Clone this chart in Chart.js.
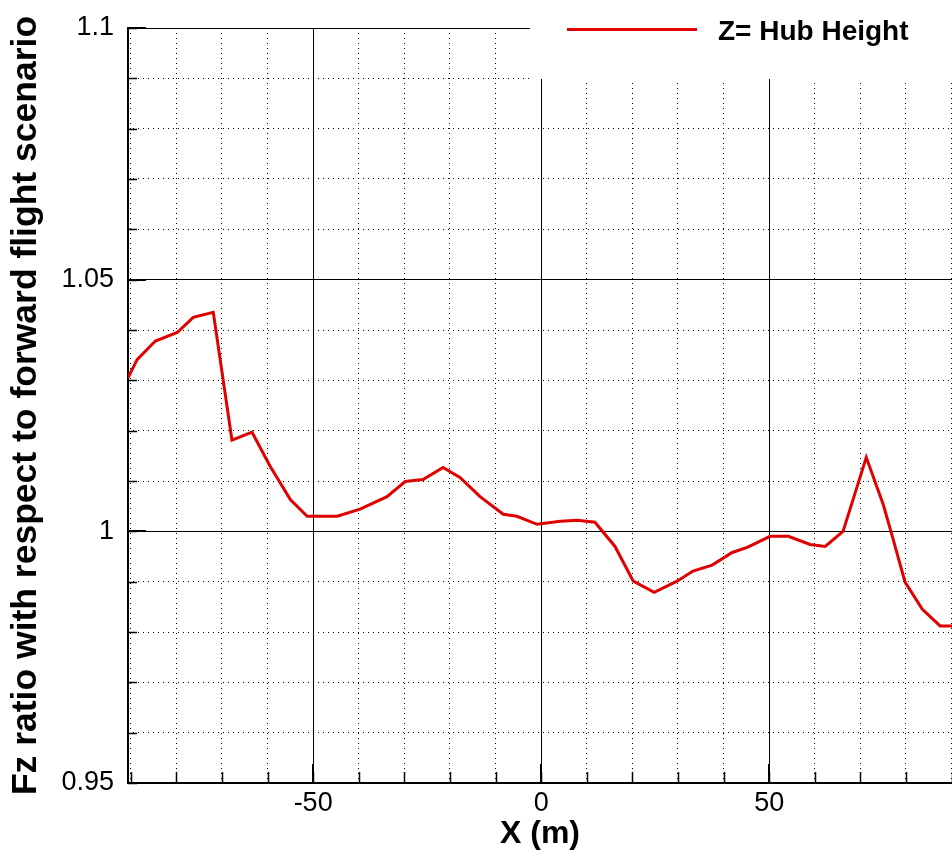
<!DOCTYPE html>
<html>
<head>
<meta charset="utf-8">
<script src="https://cdn.jsdelivr.net/npm/chart.js@4.4.1/dist/chart.umd.min.js"></script>
<style>
  html, body { margin: 0; padding: 0; background: #fff; }
</style>
</head>
<body>
<canvas id="fzChart" width="952" height="850"></canvas>
<script>
// DATA
const xPos = [-90.6, -88.6, -84.6, -79.8, -76.3, -71.9, -67.8, -63.4, -59.4, -55.0,
              -51.3, -44.7, -39.7, -33.8, -29.8, -25.9, -21.5, -17.8, -13.4, -8.3,
              -5.3, -0.9, 4.2, 7.9, 11.8, 16.2, 20.2, 24.8, 29.8, 33.3,
              37.5, 41.9, 45.2, 50.2, 54.2, 59.0, 62.3, 66.2, 68.4, 71.3,
              75.0, 77.2, 79.8, 83.6, 87.5, 90.1];
const fzRatio = [1.0305, 1.0341, 1.0378, 1.0395, 1.0425, 1.0435, 1.0181, 1.0197, 1.0129, 1.0063,
                 1.0030, 1.0030, 1.0044, 1.0069, 1.0099, 1.0103, 1.0127, 1.0107, 1.0069, 1.0034,
                 1.0030, 1.0014, 1.0020, 1.0022, 1.0018, 0.9970, 0.9901, 0.9879, 0.9901, 0.9921,
                 0.9933, 0.9958, 0.9968, 0.9990, 0.9990, 0.9974, 0.9970, 1.0000, 1.0063, 1.0147,
                 1.0054, 0.9984, 0.9899, 0.9845, 0.9812, 0.9812];
const seriesLabel = 'Z= Hub Height';

const xMajorTicks = [-50, 0, 50];
const xMinorTicks = [-90, -80, -70, -60, -50, -40, -30, -20, -10, 0, 10, 20, 30, 40, 50, 60, 70, 80, 90];
const yMajorTicks = [0.95, 1, 1.05, 1.1];
const yMinorTicks = [0.95, 0.96, 0.97, 0.98, 0.99, 1, 1.01, 1.02, 1.03, 1.04, 1.05,
                     1.06, 1.07, 1.08, 1.09, 1.1];

const FONT = "'Liberation Sans', Arial, Helvetica, sans-serif";
const RED = '#e00000';
const X_MIN = -90.6, X_MAX = 90.1;
const Y_MIN = 0.95, Y_MAX = 1.1;

// INWARD TICK MARKS ON LEFT AND BOTTOM AXES
const tickMarks = {
    id: 'tickMarks',
    afterDraw(chart) {
        const { ctx, chartArea: a, scales: { x, y } } = chart;
        const seg = (x1, y1, x2, y2, w) => {
            ctx.lineWidth = w;
            ctx.beginPath();
            ctx.moveTo(x1, y1);
            ctx.lineTo(x2, y2);
            ctx.stroke();
        };
        ctx.save();
        ctx.strokeStyle = '#000';
        xMinorTicks.forEach(v => {
            const px = Math.round(x.getPixelForValue(v)) + 0.5;
            seg(px, a.bottom, px, a.bottom - 11, 1.5);
        });
        xMajorTicks.forEach(v => {
            const px = Math.round(x.getPixelForValue(v));
            seg(px, a.bottom, px, a.bottom - 19, 2);
        });
        yMinorTicks.forEach(v => {
            const py = Math.round(y.getPixelForValue(v)) + 0.5;
            seg(a.left, py, a.left + 9, py, 1.5);
        });
        yMajorTicks.forEach(v => {
            const py = Math.round(y.getPixelForValue(v));
            seg(a.left, py, a.left + 18, py, 2);
        });
        ctx.restore();
    }
};

// LEGEND BOX (sits over the top right of the plot)
const legendBox = {
    id: 'legendBox',
    afterDraw(chart) {
        const { ctx } = chart;
        const ds = chart.data.datasets[0];
        ctx.save();
        ctx.fillStyle = '#fff';
        ctx.fillRect(530, 0, chart.width - 530, 79);
        ctx.strokeStyle = ds.borderColor;
        ctx.lineWidth = 3;
        ctx.beginPath();
        ctx.moveTo(567, 29.5);
        ctx.lineTo(697, 29.5);
        ctx.stroke();
        ctx.fillStyle = '#000';
        ctx.font = 'bold 28px ' + FONT;
        ctx.textBaseline = 'alphabetic';
        ctx.fillText(ds.label, 718, 40);
        ctx.restore();
    }
};

const tickFont = { family: FONT, size: 27 };

new Chart(document.getElementById('fzChart'), {
    type: 'scatter',
    data: {
        datasets: [{
            label: seriesLabel,
            data: xPos.map((v, i) => ({ x: v, y: fzRatio[i] })),
            showLine: true,
            borderColor: RED,
            borderWidth: 3,
            pointRadius: 0,
            tension: 0
        }]
    },
    options: {
        responsive: false,
        animation: false,
        devicePixelRatio: 1,
        layout: { padding: { top: 28, left: 0, right: 0, bottom: 0 } },
        plugins: {
            legend: { display: false },
            tooltip: { enabled: false }
        },
        scales: {
            x: {
                type: 'linear',
                position: 'bottom',
                min: X_MIN,
                max: X_MAX,
                afterBuildTicks: s => { s.ticks = xMajorTicks.map(v => ({ value: v })); },
                afterFit: s => { s.height = 67; s.paddingLeft = 0; s.paddingRight = 0; },
                grid: { color: '#000', lineWidth: 1, drawTicks: false },
                border: { display: true, color: '#000', width: 2 },
                ticks: {
                    color: '#000', font: tickFont, padding: 4,
                    maxRotation: 0, autoSkip: false,
                    callback: v => String(v)
                },
                title: {
                    display: true, text: 'X (m)', color: '#000',
                    font: { family: FONT, size: 32, weight: 'bold', lineHeight: 1 },
                    padding: { top: 0, bottom: 0 }
                }
            },
            xm: {
                type: 'linear',
                position: 'bottom',
                min: X_MIN,
                max: X_MAX,
                afterBuildTicks: s => { s.ticks = xMinorTicks.map(v => ({ value: v })); },
                afterFit: s => { s.height = 0; },
                ticks: { display: false },
                grid: { color: '#000', lineWidth: 1, drawTicks: false },
                border: { display: false, dash: [1, 4] }
            },
            y: {
                type: 'linear',
                position: 'left',
                min: Y_MIN,
                max: Y_MAX,
                afterBuildTicks: s => { s.ticks = yMajorTicks.map(v => ({ value: v })); },
                afterFit: s => { s.width = 128; s.paddingTop = 0; s.paddingBottom = 0; },
                grid: { color: '#000', lineWidth: 1, drawTicks: false },
                border: { display: true, color: '#000', width: 2 },
                ticks: {
                    color: '#000', font: tickFont, padding: 14,
                    callback: v => String(v)
                },
                title: {
                    display: true, text: 'Fz ratio with respect to forward flight scenario',
                    color: '#000',
                    font: { family: FONT, size: 35.5, weight: 'bold', lineHeight: 1 },
                    padding: { top: 8, bottom: 0 }
                }
            },
            ym: {
                type: 'linear',
                position: 'left',
                min: Y_MIN,
                max: Y_MAX,
                afterBuildTicks: s => { s.ticks = yMinorTicks.map(v => ({ value: v })); },
                afterFit: s => { s.width = 0; },
                ticks: { display: false },
                grid: { color: '#000', lineWidth: 1, drawTicks: false },
                border: { display: false, dash: [1, 4] }
            }
        }
    },
    plugins: [tickMarks, legendBox]
});
</script>
</body>
</html>
